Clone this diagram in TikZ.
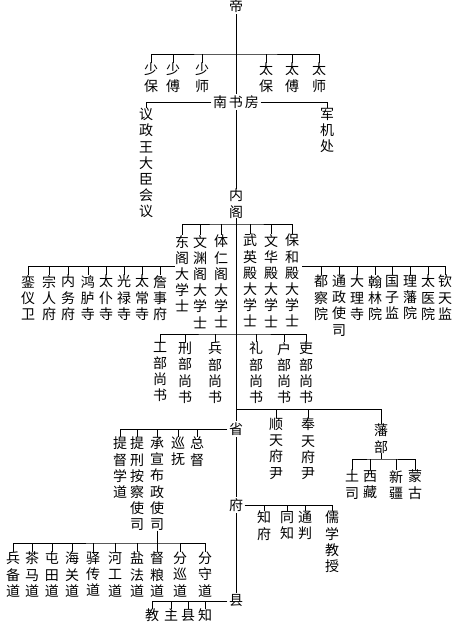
\documentclass[tikz,border=0pt]{standalone}
\usepackage{fontspec}
\newfontfamily\cjk{Noto Sans CJK SC}
\begin{document}
\begin{tikzpicture}[x=1pt,y=-1pt,
  col/.style={font=\cjk\fontsize{14}{16.2}\selectfont, align=center, inner sep=0pt, anchor=north},
  lbl/.style={font=\cjk\fontsize{14}{16.2}\selectfont, inner sep=1.5pt},
  ln/.style={line width=0.6pt, black}]
\fill[white] (0,0) rectangle (468,625);
\useasboundingbox (0,0) rectangle (468,625);
% top
\node[lbl] (di) at (236,6) {帝};
\node[col] (shaobao) at (151,63) {少\\保};
\node[col] (shaofu) at (173,63) {少\\傅};
\node[col] (shaoshi) at (202,63) {少\\师};
\node[col] (taibao) at (266,63) {太\\保};
\node[col] (taifu) at (292,63) {太\\傅};
\node[col] (taishi) at (319,63) {太\\师};
\node[lbl] (nanshufang) at (236,102) {南\hspace{2pt}书\hspace{2pt}房};
\node[col] (yizheng) at (146,108) {议\\政\\王\\大\\臣\\会\\议};
\node[col] (junjichu) at (327,108) {军\\机\\处};
\node[col] (neige) at (236,189) {内\\阁};
% grand secretaries
\node[col] (dongge) at (182,235) {东\\阁\\大\\学\\士};
\node[col] (wenyuan) at (200,235) {文\\渊\\阁\\大\\学\\士};
\node[col] (tiren) at (221,235) {体\\仁\\阁\\大\\学\\士};
\node[col] (wuying) at (250,234) {武\\英\\殿\\大\\学\\士};
\node[col] (wenhua) at (271,234) {文\\华\\殿\\大\\学\\士};
\node[col] (baohe) at (292,234) {保\\和\\殿\\大\\学\\士};
% left row
\node[col] (luanyi) at (28,275) {銮\\仪\\卫};
\node[col] (zongren) at (49,275) {宗\\人\\府};
\node[col] (neiwu) at (68,275) {内\\务\\府};
\node[col] (honglu) at (88,275) {鸿\\胪\\寺};
\node[col] (taipu) at (106,275) {太\\仆\\寺};
\node[col] (guanglu) at (124,275) {光\\禄\\寺};
\node[col] (taichang) at (142,275) {太\\常\\寺};
\node[col] (zhanshi) at (160,275) {詹\\事\\府};
% right row
\node[col] (duchayuan) at (321,275) {都\\察\\院};
\node[col] (tongzheng) at (339,275) {通\\政\\使\\司};
\node[col] (dali) at (357,275) {大\\理\\寺};
\node[col] (hanlin) at (375,275) {翰\\林\\院};
\node[col] (guozi) at (392,275) {国\\子\\监};
\node[col] (lifan) at (410,275) {理\\藩\\院};
\node[col] (taiyi) at (428,275) {太\\医\\院};
\node[col] (qintian) at (445,275) {钦\\天\\监};
% six ministries
\node[col] (gongbu) at (160,342) {工\\部\\尚\\书};
\node[col] (xingbu) at (185,342) {刑\\部\\尚\\书};
\node[col] (bingbu) at (215,342) {兵\\部\\尚\\书};
\node[col] (libu) at (256,342) {礼\\部\\尚\\书};
\node[col] (hubu) at (284,342) {户\\部\\尚\\书};
\node[col] (libutwo) at (306,342) {吏\\部\\尚\\书};
% prefectures
\node[col] (shuntian) at (276,418) {顺\\天\\府\\尹};
\node[col] (fengtian) at (308,418) {奉\\天\\府\\尹};
\node[col] (fanbu) at (381,424) {藩\\部};
\node[col] (tusi) at (352,470) {土\\司};
\node[col] (xizang) at (370,470) {西\\藏};
\node[col] (xinjiang) at (396,470) {新\\疆};
\node[col] (menggu) at (415,470) {蒙\\古};
% province
\node[lbl] (sheng) at (236,429) {省};
\node[col] (tidu) at (120,437) {提\\督\\学\\道};
\node[col] (tixing) at (137,437) {提\\刑\\按\\察\\使\\司};
\node[col] (chengxuan) at (157,437) {承\\宣\\布\\政\\使\\司};
\node[col] (xunfu) at (178,437) {巡\\抚};
\node[col] (zongdu) at (197,437) {总\\督};
% circuits
\node[col] (bingbei) at (13,552) {兵\\备\\道};
\node[col] (chama) at (32,552) {茶\\马\\道};
\node[col] (tuntian) at (52,552) {屯\\田\\道};
\node[col] (haiguan) at (72,552) {海\\关\\道};
\node[col] (yichuan) at (93,552) {驿\\传\\道};
\node[col] (hegong) at (115,552) {河\\工\\道};
\node[col] (yanfa) at (137,552) {盐\\法\\道};
\node[col] (duliang) at (157,552) {督\\粮\\道};
\node[col] (fenxun) at (180,552) {分\\巡\\道};
\node[col] (fenshou) at (205,552) {分\\守\\道};
% fu
\node[lbl] (fu) at (236,505) {府};
\node[col] (zhifu) at (264,511) {知\\府};
\node[col] (tongzhi) at (287,511) {同\\知};
\node[col] (tongpan) at (305,511) {通\\判};
\node[col] (ruxue) at (332,511) {儒\\学\\教\\授};
% xian
\node[lbl] (xian) at (236,601) {县};
\node[col] (jiao) at (152,609) {教};
\node[col] (zhu) at (171,609) {主};
\node[col] (xiantwo) at (188,609) {县};
\node[col] (zhi) at (205,609) {知};
% junction coordinates
\coordinate (j1) at (236,54);
\coordinate (j2) at (236,224);
\coordinate (lb) at (175,266);
\coordinate (rb) at (302,266);
\coordinate (j3) at (236,334);
\coordinate (j4) at (236,409);
\coordinate (j5) at (381,459);
\coordinate (j6) at (157,543);
% connectors
\draw[ln] (di) -- (nanshufang);
\draw[ln] (shaobao.north) |- (j1) -| (taishi.north);
\foreach \n in {shaofu,shaoshi,taibao,taifu} \draw[ln] (\n.north) -- (\n.north |- j1);
\draw[ln] (nanshufang.west) -| (yizheng.north);
\draw[ln] (nanshufang.east) -| (junjichu.north);
\draw[ln] (nanshufang) -- (neige);
\draw[ln] (neige.south) -- (sheng.north);
\draw[ln] (dongge.north) |- (j2) -| (baohe.north);
\foreach \n in {wenyuan,tiren,wuying,wenhua} \draw[ln] (\n.north) -- (\n.north |- j2);
\draw[ln] (luanyi.north) |- (lb);
\foreach \n in {zongren,neiwu,honglu,taipu,guanglu,taichang,zhanshi} \draw[ln] (\n.north) -- (\n.north |- lb);
\draw[ln] (rb) -| (qintian.north);
\foreach \n in {duchayuan,tongzheng,dali,hanlin,guozi,lifan,taiyi} \draw[ln] (\n.north) -- (\n.north |- rb);
\draw[ln] (gongbu.north) |- (j3) -| (libutwo.north);
\foreach \n in {xingbu,bingbu,libu,hubu} \draw[ln] (\n.north) -- (\n.north |- j3);
\draw[ln] (j4) -| (fanbu.north);
\foreach \n in {shuntian,fengtian} \draw[ln] (\n.north) -- (\n.north |- j4);
\draw[ln] (fanbu.south) -- (j5);
\draw[ln] (tusi.north) |- (j5) -| (menggu.north);
\foreach \n in {xizang,xinjiang} \draw[ln] (\n.north) -- (\n.north |- j5);
\draw[ln] (sheng.west) -| (tidu.north);
\foreach \n in {tixing,chengxuan,xunfu,zongdu} \draw[ln] (\n.north) -- (\n.north |- sheng.west);
\draw[ln] (chengxuan.south) -- (j6);
\draw[ln] (bingbei.north) |- (j6) -| (fenshou.north);
\foreach \n in {chama,tuntian,haiguan,yichuan,hegong,yanfa,duliang,fenxun} \draw[ln] (\n.north) -- (\n.north |- j6);
\draw[ln] (sheng.south) -- (fu.north);
\draw[ln] (fu.south) -- (xian.north);
\draw[ln] (fu.east) -| (ruxue.north);
\foreach \n in {zhifu,tongzhi,tongpan} \draw[ln] (\n.north) -- (\n.north |- fu.east);
\draw[ln] (xian.west) -| (jiao.north);
\foreach \n in {zhu,xiantwo,zhi} \draw[ln] (\n.north) -- (\n.north |- xian.west);
\end{tikzpicture}
\end{document}
